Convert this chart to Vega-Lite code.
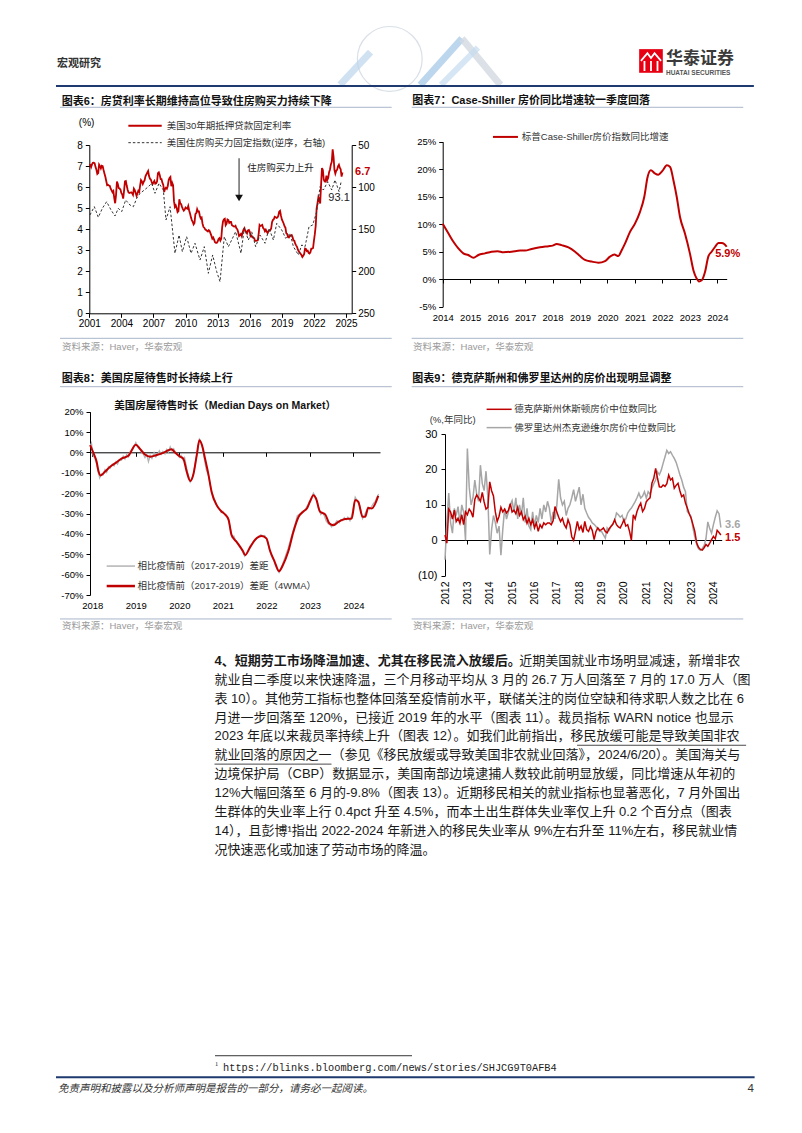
{
"$schema": "https://vega.github.io/schema/vega-lite/v6.json",
"width": 802, "height": 1133, "autosize": {"type": "none"}, "padding": 0, "background": "white",
"config": {"view": {"stroke": null}, "axis": {"grid": false, "domainColor": "#000", "tickColor": "#000", "labelColor": "#000", "labelFont": "Liberation Sans", "labelFontSize": 10, "tickSize": 4, "domainWidth": 1, "tickWidth": 1, "labelFlush": false, "labelOverlap": false}},
"data": {"values": [{}]},
"datasets": {
"c6rate": [
{"t":2001.000,"v":7.03},{"t":2001.083,"v":7.05},{"t":2001.167,"v":6.95},{"t":2001.250,"v":7.08},{"t":2001.333,"v":7.15},{"t":2001.417,"v":7.16},{"t":2001.500,"v":7.13},{"t":2001.583,"v":6.95},{"t":2001.667,"v":6.82},{"t":2001.750,"v":6.62},{"t":2001.833,"v":6.66},{"t":2001.917,"v":7.07},
{"t":2002.000,"v":7.00},{"t":2002.083,"v":6.89},{"t":2002.167,"v":7.01},{"t":2002.250,"v":6.99},{"t":2002.333,"v":6.81},{"t":2002.417,"v":6.65},{"t":2002.500,"v":6.49},{"t":2002.583,"v":6.29},{"t":2002.667,"v":6.09},{"t":2002.750,"v":6.11},{"t":2002.833,"v":6.07},{"t":2002.917,"v":6.05},
{"t":2003.000,"v":5.92},{"t":2003.083,"v":5.84},{"t":2003.167,"v":5.75},{"t":2003.250,"v":5.81},{"t":2003.333,"v":5.48},{"t":2003.417,"v":5.23},{"t":2003.500,"v":5.63},{"t":2003.583,"v":6.26},{"t":2003.667,"v":6.15},{"t":2003.750,"v":5.95},{"t":2003.833,"v":5.93},{"t":2003.917,"v":5.88},
{"t":2004.000,"v":5.71},{"t":2004.083,"v":5.64},{"t":2004.167,"v":5.45},{"t":2004.250,"v":5.83},{"t":2004.333,"v":6.27},{"t":2004.417,"v":6.29},{"t":2004.500,"v":6.06},{"t":2004.583,"v":5.87},{"t":2004.667,"v":5.75},{"t":2004.750,"v":5.72},{"t":2004.833,"v":5.73},{"t":2004.917,"v":5.75},
{"t":2005.000,"v":5.71},{"t":2005.083,"v":5.63},{"t":2005.167,"v":5.93},{"t":2005.250,"v":5.86},{"t":2005.333,"v":5.72},{"t":2005.417,"v":5.58},{"t":2005.500,"v":5.70},{"t":2005.583,"v":5.82},{"t":2005.667,"v":5.77},{"t":2005.750,"v":6.07},{"t":2005.833,"v":6.33},{"t":2005.917,"v":6.27},
{"t":2006.000,"v":6.15},{"t":2006.083,"v":6.25},{"t":2006.167,"v":6.32},{"t":2006.250,"v":6.51},{"t":2006.333,"v":6.60},{"t":2006.417,"v":6.68},{"t":2006.500,"v":6.76},{"t":2006.583,"v":6.52},{"t":2006.667,"v":6.40},{"t":2006.750,"v":6.36},{"t":2006.833,"v":6.24},{"t":2006.917,"v":6.14},
{"t":2007.000,"v":6.22},{"t":2007.083,"v":6.29},{"t":2007.167,"v":6.16},{"t":2007.250,"v":6.18},{"t":2007.333,"v":6.26},{"t":2007.417,"v":6.66},{"t":2007.500,"v":6.70},{"t":2007.583,"v":6.57},{"t":2007.667,"v":6.38},{"t":2007.750,"v":6.38},{"t":2007.833,"v":6.21},{"t":2007.917,"v":6.10},
{"t":2008.000,"v":5.76},{"t":2008.083,"v":5.92},{"t":2008.167,"v":5.97},{"t":2008.250,"v":5.92},{"t":2008.333,"v":6.04},{"t":2008.417,"v":6.32},{"t":2008.500,"v":6.43},{"t":2008.583,"v":6.48},{"t":2008.667,"v":6.04},{"t":2008.750,"v":6.20},{"t":2008.833,"v":6.09},{"t":2008.917,"v":5.33},
{"t":2009.000,"v":5.06},{"t":2009.083,"v":5.13},{"t":2009.167,"v":5.00},{"t":2009.250,"v":4.81},{"t":2009.333,"v":4.86},{"t":2009.417,"v":5.42},{"t":2009.500,"v":5.22},{"t":2009.583,"v":5.19},{"t":2009.667,"v":5.06},{"t":2009.750,"v":4.95},{"t":2009.833,"v":4.88},{"t":2009.917,"v":4.93},
{"t":2010.000,"v":5.03},{"t":2010.083,"v":4.99},{"t":2010.167,"v":4.97},{"t":2010.250,"v":5.10},{"t":2010.333,"v":4.89},{"t":2010.417,"v":4.74},{"t":2010.500,"v":4.56},{"t":2010.583,"v":4.43},{"t":2010.667,"v":4.35},{"t":2010.750,"v":4.23},{"t":2010.833,"v":4.30},{"t":2010.917,"v":4.71},
{"t":2011.000,"v":4.76},{"t":2011.083,"v":4.95},{"t":2011.167,"v":4.84},{"t":2011.250,"v":4.84},{"t":2011.333,"v":4.64},{"t":2011.417,"v":4.51},{"t":2011.500,"v":4.55},{"t":2011.583,"v":4.27},{"t":2011.667,"v":4.11},{"t":2011.750,"v":4.07},{"t":2011.833,"v":3.99},{"t":2011.917,"v":3.96},
{"t":2012.000,"v":3.92},{"t":2012.083,"v":3.89},{"t":2012.167,"v":3.95},{"t":2012.250,"v":3.91},{"t":2012.333,"v":3.80},{"t":2012.417,"v":3.68},{"t":2012.500,"v":3.55},{"t":2012.583,"v":3.60},{"t":2012.667,"v":3.50},{"t":2012.750,"v":3.38},{"t":2012.833,"v":3.35},{"t":2012.917,"v":3.35},
{"t":2013.000,"v":3.41},{"t":2013.083,"v":3.53},{"t":2013.167,"v":3.57},{"t":2013.250,"v":3.45},{"t":2013.333,"v":3.54},{"t":2013.417,"v":4.07},{"t":2013.500,"v":4.37},{"t":2013.583,"v":4.46},{"t":2013.667,"v":4.49},{"t":2013.750,"v":4.19},{"t":2013.833,"v":4.26},{"t":2013.917,"v":4.46},
{"t":2014.000,"v":4.43},{"t":2014.083,"v":4.30},{"t":2014.167,"v":4.34},{"t":2014.250,"v":4.34},{"t":2014.333,"v":4.19},{"t":2014.417,"v":4.16},{"t":2014.500,"v":4.13},{"t":2014.583,"v":4.12},{"t":2014.667,"v":4.16},{"t":2014.750,"v":4.04},{"t":2014.833,"v":4.00},{"t":2014.917,"v":3.86},
{"t":2015.000,"v":3.67},{"t":2015.083,"v":3.71},{"t":2015.167,"v":3.77},{"t":2015.250,"v":3.67},{"t":2015.333,"v":3.84},{"t":2015.417,"v":3.98},{"t":2015.500,"v":4.05},{"t":2015.583,"v":3.91},{"t":2015.667,"v":3.89},{"t":2015.750,"v":3.80},{"t":2015.833,"v":3.94},{"t":2015.917,"v":3.96},
{"t":2016.000,"v":3.87},{"t":2016.083,"v":3.66},{"t":2016.167,"v":3.69},{"t":2016.250,"v":3.61},{"t":2016.333,"v":3.60},{"t":2016.417,"v":3.57},{"t":2016.500,"v":3.44},{"t":2016.583,"v":3.44},{"t":2016.667,"v":3.46},{"t":2016.750,"v":3.47},{"t":2016.833,"v":3.77},{"t":2016.917,"v":4.20},
{"t":2017.000,"v":4.15},{"t":2017.083,"v":4.17},{"t":2017.167,"v":4.20},{"t":2017.250,"v":4.05},{"t":2017.333,"v":4.01},{"t":2017.417,"v":3.90},{"t":2017.500,"v":3.97},{"t":2017.583,"v":3.88},{"t":2017.667,"v":3.81},{"t":2017.750,"v":3.90},{"t":2017.833,"v":3.92},{"t":2017.917,"v":3.95},
{"t":2018.000,"v":4.03},{"t":2018.083,"v":4.33},{"t":2018.167,"v":4.44},{"t":2018.250,"v":4.47},{"t":2018.333,"v":4.59},{"t":2018.417,"v":4.57},{"t":2018.500,"v":4.53},{"t":2018.583,"v":4.55},{"t":2018.667,"v":4.63},{"t":2018.750,"v":4.83},{"t":2018.833,"v":4.87},{"t":2018.917,"v":4.64},
{"t":2019.000,"v":4.46},{"t":2019.083,"v":4.37},{"t":2019.167,"v":4.27},{"t":2019.250,"v":4.14},{"t":2019.333,"v":4.07},{"t":2019.417,"v":3.80},{"t":2019.500,"v":3.77},{"t":2019.583,"v":3.62},{"t":2019.667,"v":3.61},{"t":2019.750,"v":3.69},{"t":2019.833,"v":3.70},{"t":2019.917,"v":3.72},
{"t":2020.000,"v":3.62},{"t":2020.083,"v":3.47},{"t":2020.167,"v":3.45},{"t":2020.250,"v":3.31},{"t":2020.333,"v":3.23},{"t":2020.417,"v":3.16},{"t":2020.500,"v":3.02},{"t":2020.583,"v":2.94},{"t":2020.667,"v":2.89},{"t":2020.750,"v":2.83},{"t":2020.833,"v":2.77},{"t":2020.917,"v":2.68},
{"t":2021.000,"v":2.74},{"t":2021.083,"v":2.81},{"t":2021.167,"v":3.08},{"t":2021.250,"v":3.06},{"t":2021.333,"v":2.96},{"t":2021.417,"v":2.98},{"t":2021.500,"v":2.87},{"t":2021.583,"v":2.84},{"t":2021.667,"v":2.90},{"t":2021.750,"v":3.07},{"t":2021.833,"v":3.07},{"t":2021.917,"v":3.10},
{"t":2022.000,"v":3.45},{"t":2022.083,"v":3.76},{"t":2022.167,"v":4.17},{"t":2022.250,"v":4.98},{"t":2022.333,"v":5.23},{"t":2022.417,"v":5.52},{"t":2022.500,"v":5.41},{"t":2022.583,"v":5.22},{"t":2022.667,"v":6.11},{"t":2022.750,"v":6.90},{"t":2022.833,"v":6.81},{"t":2022.917,"v":6.36},
{"t":2023.000,"v":6.27},{"t":2023.083,"v":6.26},{"t":2023.167,"v":6.54},{"t":2023.250,"v":6.34},{"t":2023.333,"v":6.43},{"t":2023.417,"v":6.71},{"t":2023.500,"v":6.84},{"t":2023.583,"v":7.07},{"t":2023.667,"v":7.20},{"t":2023.750,"v":7.79},{"t":2023.833,"v":7.44},{"t":2023.917,"v":6.82},
{"t":2024.000,"v":6.64},{"t":2024.083,"v":6.78},{"t":2024.167,"v":6.82},{"t":2024.250,"v":6.99},{"t":2024.333,"v":7.06},{"t":2024.417,"v":6.92},{"t":2024.500,"v":6.85},{"t":2024.583,"v":6.50},{"t":2024.667,"v":6.70}
],
"c6idx": [
{"t":2001.06,"v":133.2},{"t":2001.47,"v":123.3},{"t":2001.84,"v":135.9},{"t":2002.22,"v":125.3},{"t":2002.62,"v":117.4},{"t":2003.03,"v":127.2},{"t":2003.40,"v":134.4},{"t":2003.71,"v":125.3},{"t":2004.03,"v":129.2},{"t":2004.40,"v":115.4},{"t":2004.80,"v":121.3},{"t":2005.12,"v":123.3},{"t":2005.43,"v":113.4},{"t":2005.74,"v":107.4},{"t":2006.15,"v":103.5},{"t":2006.52,"v":99.5},{"t":2006.83,"v":95.5},{"t":2007.14,"v":107.4},{"t":2007.52,"v":95.5},{"t":2007.92,"v":103.5},{"t":2008.17,"v":139.1},{"t":2008.55,"v":123.3},{"t":2009.01,"v":178.7},{"t":2009.39,"v":157.0},{"t":2009.70,"v":176.8},{"t":2010.10,"v":159.0},{"t":2010.51,"v":178.7},{"t":2010.88,"v":166.8},{"t":2011.35,"v":186.7},{"t":2011.75,"v":170.8},{"t":2012.13,"v":202.5},{"t":2012.53,"v":180.7},{"t":2012.91,"v":200.5},{"t":2013.22,"v":212.4},{"t":2013.62,"v":159.0},{"t":2014.00,"v":170.8},{"t":2014.31,"v":162.9},{"t":2014.68,"v":153.0},{"t":2015.18,"v":178.7},{"t":2015.49,"v":149.0},{"t":2015.87,"v":162.9},{"t":2016.18,"v":153.0},{"t":2016.55,"v":170.8},{"t":2016.96,"v":157.0},{"t":2017.43,"v":166.8},{"t":2017.80,"v":149.0},{"t":2018.21,"v":162.9},{"t":2018.52,"v":143.1},{"t":2018.99,"v":151.0},{"t":2019.36,"v":160.9},{"t":2019.77,"v":155.0},{"t":2020.08,"v":170.8},{"t":2020.55,"v":180.7},{"t":2020.86,"v":168.8},{"t":2021.17,"v":170.8},{"t":2021.54,"v":147.1},{"t":2021.88,"v":145.1},{"t":2022.26,"v":129.2},{"t":2022.57,"v":99.5},{"t":2022.88,"v":103.5},{"t":2023.29,"v":93.6},{"t":2023.66,"v":103.5},{"t":2023.97,"v":91.6},{"t":2024.35,"v":105.5},{"t":2024.55,"v":93.1}
],
"c7": [
{"t":2014.00,"v":10.1},{"t":2014.21,"v":8.3},{"t":2014.39,"v":6.8},{"t":2014.57,"v":5.6},{"t":2014.75,"v":4.7},{"t":2014.93,"v":4.4},{"t":2015.12,"v":3.9},{"t":2015.30,"v":4.4},{"t":2015.54,"v":4.7},{"t":2015.78,"v":5.0},{"t":2016.00,"v":5.1},{"t":2016.21,"v":4.9},{"t":2016.51,"v":5.0},{"t":2016.82,"v":5.2},{"t":2017.00,"v":5.2},{"t":2017.24,"v":5.5},{"t":2017.54,"v":5.8},{"t":2017.85,"v":6.0},{"t":2018.00,"v":6.1},{"t":2018.15,"v":6.4},{"t":2018.33,"v":6.2},{"t":2018.58,"v":5.8},{"t":2018.82,"v":5.0},{"t":2019.00,"v":4.2},{"t":2019.18,"v":3.5},{"t":2019.42,"v":3.2},{"t":2019.67,"v":3.0},{"t":2019.91,"v":3.3},{"t":2020.09,"v":4.1},{"t":2020.25,"v":4.5},{"t":2020.40,"v":4.2},{"t":2020.49,"v":5.0},{"t":2020.64,"v":6.5},{"t":2020.82,"v":8.6},{"t":2021.00,"v":10.1},{"t":2021.18,"v":12.2},{"t":2021.34,"v":15.0},{"t":2021.46,"v":18.6},{"t":2021.58,"v":19.8},{"t":2021.71,"v":19.3},{"t":2021.85,"v":19.0},{"t":2022.00,"v":19.7},{"t":2022.16,"v":20.7},{"t":2022.28,"v":20.4},{"t":2022.40,"v":18.0},{"t":2022.52,"v":15.0},{"t":2022.64,"v":11.3},{"t":2022.82,"v":8.3},{"t":2023.00,"v":4.7},{"t":2023.13,"v":1.6},{"t":2023.25,"v":0.1},{"t":2023.33,"v":-0.4},{"t":2023.43,"v":-0.2},{"t":2023.55,"v":1.3},{"t":2023.67,"v":4.1},{"t":2023.79,"v":5.0},{"t":2023.92,"v":5.9},{"t":2024.04,"v":6.6},{"t":2024.16,"v":6.6},{"t":2024.25,"v":6.4},{"t":2024.34,"v":5.9}
],
"c8g": [
{"t":2017.95,"v":3.0},{"t":2017.98,"v":4.5},{"t":2018.02,"v":-1.5},{"t":2018.06,"v":-3.0},{"t":2018.10,"v":-6.0},{"t":2018.14,"v":-10.0},{"t":2018.17,"v":-12.5},{"t":2018.21,"v":-10.5},{"t":2018.25,"v":-11.0},{"t":2018.29,"v":-8.5},{"t":2018.33,"v":-9.8},{"t":2018.37,"v":-7.0},{"t":2018.41,"v":-7.8},{"t":2018.46,"v":-5.8},{"t":2018.50,"v":-6.6},{"t":2018.54,"v":-4.6},{"t":2018.58,"v":-5.8},{"t":2018.62,"v":-3.5},{"t":2018.67,"v":-3.8},{"t":2018.71,"v":-1.8},{"t":2018.75,"v":-3.2},{"t":2018.79,"v":-1.0},{"t":2018.83,"v":-2.2},{"t":2018.87,"v":0.5},{"t":2018.92,"v":1.2},{"t":2018.96,"v":3.0},{"t":2019.00,"v":4.8},{"t":2019.04,"v":2.8},{"t":2019.08,"v":2.2},{"t":2019.12,"v":0.5},{"t":2019.17,"v":-0.8},{"t":2019.21,"v":-2.5},{"t":2019.25,"v":-1.0},{"t":2019.29,"v":-4.5},{"t":2019.33,"v":-1.5},{"t":2019.37,"v":-3.0},{"t":2019.42,"v":-0.2},{"t":2019.46,"v":-2.2},{"t":2019.50,"v":-1.0},{"t":2019.54,"v":0.8},{"t":2019.58,"v":-1.0},{"t":2019.62,"v":0.5},{"t":2019.67,"v":-0.8},{"t":2019.71,"v":1.5},{"t":2019.75,"v":0.2},{"t":2019.79,"v":2.8},{"t":2019.83,"v":0.8},{"t":2019.87,"v":1.8},{"t":2019.92,"v":-0.5},{"t":2019.96,"v":-1.2},{"t":2020.00,"v":-2.5},{"t":2020.04,"v":-1.5},{"t":2020.08,"v":-3.5},{"t":2020.12,"v":-2.5},{"t":2020.17,"v":-8.0},{"t":2020.21,"v":-11.5},{"t":2020.25,"v":-14.5},{"t":2020.29,"v":-13.0},{"t":2020.33,"v":-10.0},{"t":2020.37,"v":-4.5},{"t":2020.42,"v":1.0},{"t":2020.46,"v":6.5},{"t":2020.50,"v":5.0},{"t":2020.54,"v":1.5},{"t":2020.58,"v":-4.0},{"t":2020.62,"v":-8.5},{"t":2020.67,"v":-11.5},{"t":2020.71,"v":-16.0},{"t":2020.75,"v":-20.0},{"t":2020.79,"v":-22.0},{"t":2020.83,"v":-24.5},{"t":2020.87,"v":-26.5},{"t":2020.92,"v":-27.5},{"t":2020.96,"v":-29.5},{"t":2021.00,"v":-29.0},{"t":2021.04,"v":-30.5},{"t":2021.08,"v":-31.0},{"t":2021.12,"v":-32.5},{"t":2021.17,"v":-37.0},{"t":2021.21,"v":-41.5},{"t":2021.25,"v":-41.0},{"t":2021.29,"v":-43.0},{"t":2021.33,"v":-44.5},{"t":2021.37,"v":-46.0},{"t":2021.42,"v":-47.5},{"t":2021.46,"v":-49.0},{"t":2021.50,"v":-51.0},{"t":2021.54,"v":-50.0},{"t":2021.58,"v":-48.0},{"t":2021.62,"v":-46.0},{"t":2021.67,"v":-45.0},{"t":2021.71,"v":-43.5},{"t":2021.75,"v":-43.0},{"t":2021.79,"v":-42.0},{"t":2021.83,"v":-41.5},{"t":2021.87,"v":-40.5},{"t":2021.92,"v":-41.0},{"t":2021.96,"v":-40.8},{"t":2022.00,"v":-42.5},{"t":2022.04,"v":-45.0},{"t":2022.08,"v":-48.5},{"t":2022.12,"v":-51.0},{"t":2022.17,"v":-53.0},{"t":2022.21,"v":-55.5},{"t":2022.25,"v":-57.5},{"t":2022.29,"v":-59.0},{"t":2022.33,"v":-57.0},{"t":2022.37,"v":-55.0},{"t":2022.42,"v":-52.0},{"t":2022.46,"v":-49.5},{"t":2022.50,"v":-47.0},{"t":2022.54,"v":-44.0},{"t":2022.58,"v":-41.0},{"t":2022.62,"v":-38.0},{"t":2022.67,"v":-34.5},{"t":2022.71,"v":-31.0},{"t":2022.75,"v":-30.5},{"t":2022.79,"v":-30.0},{"t":2022.83,"v":-29.0},{"t":2022.87,"v":-28.5},{"t":2022.92,"v":-27.0},{"t":2022.96,"v":-25.5},{"t":2023.00,"v":-23.5},{"t":2023.04,"v":-22.5},{"t":2023.08,"v":-20.0},{"t":2023.12,"v":-21.5},{"t":2023.17,"v":-24.5},{"t":2023.21,"v":-28.0},{"t":2023.25,"v":-30.5},{"t":2023.29,"v":-29.5},{"t":2023.33,"v":-31.0},{"t":2023.37,"v":-33.5},{"t":2023.42,"v":-35.0},{"t":2023.46,"v":-35.5},{"t":2023.50,"v":-36.5},{"t":2023.54,"v":-35.0},{"t":2023.58,"v":-34.8},{"t":2023.62,"v":-33.5},{"t":2023.67,"v":-34.5},{"t":2023.71,"v":-33.0},{"t":2023.75,"v":-33.5},{"t":2023.79,"v":-32.0},{"t":2023.83,"v":-33.0},{"t":2023.87,"v":-31.8},{"t":2023.92,"v":-33.5},{"t":2023.96,"v":-31.0},{"t":2024.00,"v":-27.0},{"t":2024.04,"v":-22.0},{"t":2024.08,"v":-23.5},{"t":2024.12,"v":-24.5},{"t":2024.17,"v":-28.5},{"t":2024.21,"v":-32.5},{"t":2024.25,"v":-31.0},{"t":2024.29,"v":-29.0},{"t":2024.33,"v":-27.0},{"t":2024.37,"v":-28.0},{"t":2024.42,"v":-26.5},{"t":2024.46,"v":-25.0},{"t":2024.50,"v":-24.0},{"t":2024.54,"v":-22.0},{"t":2024.58,"v":-20.5}
],
"c8r": [
{"t":2017.95,"v":3.6},{"t":2018.02,"v":0.0},{"t":2018.10,"v":-4.6},{"t":2018.14,"v":-9.0},{"t":2018.19,"v":-11.3},{"t":2018.29,"v":-9.5},{"t":2018.41,"v":-7.0},{"t":2018.52,"v":-5.4},{"t":2018.67,"v":-3.0},{"t":2018.83,"v":-1.6},{"t":2019.00,"v":3.8},{"t":2019.10,"v":1.6},{"t":2019.21,"v":-1.0},{"t":2019.33,"v":-2.1},{"t":2019.48,"v":-1.3},{"t":2019.63,"v":-0.2},{"t":2019.75,"v":1.1},{"t":2019.82,"v":1.6},{"t":2019.90,"v":0.0},{"t":2020.02,"v":-2.1},{"t":2020.09,"v":-3.0},{"t":2020.17,"v":-9.5},{"t":2020.25,"v":-14.0},{"t":2020.32,"v":-11.0},{"t":2020.40,"v":-1.3},{"t":2020.46,"v":6.0},{"t":2020.52,"v":3.6},{"t":2020.59,"v":-3.0},{"t":2020.67,"v":-11.0},{"t":2020.74,"v":-19.3},{"t":2020.86,"v":-26.0},{"t":2020.97,"v":-29.0},{"t":2021.05,"v":-30.4},{"t":2021.13,"v":-33.0},{"t":2021.20,"v":-40.6},{"t":2021.32,"v":-44.0},{"t":2021.46,"v":-48.4},{"t":2021.51,"v":-50.4},{"t":2021.62,"v":-46.8},{"t":2021.70,"v":-44.0},{"t":2021.78,"v":-42.0},{"t":2021.89,"v":-41.0},{"t":2022.00,"v":-42.2},{"t":2022.08,"v":-48.0},{"t":2022.19,"v":-53.7},{"t":2022.29,"v":-58.3},{"t":2022.38,"v":-55.3},{"t":2022.50,"v":-48.8},{"t":2022.62,"v":-39.0},{"t":2022.74,"v":-31.6},{"t":2022.85,"v":-29.0},{"t":2022.93,"v":-27.5},{"t":2023.00,"v":-24.2},{"t":2023.08,"v":-21.0},{"t":2023.14,"v":-22.6},{"t":2023.23,"v":-29.0},{"t":2023.35,"v":-30.4},{"t":2023.45,"v":-34.9},{"t":2023.54,"v":-35.7},{"t":2023.66,"v":-34.0},{"t":2023.81,"v":-32.7},{"t":2023.96,"v":-32.4},{"t":2024.04,"v":-23.4},{"t":2024.11,"v":-24.2},{"t":2024.21,"v":-31.6},{"t":2024.27,"v":-31.6},{"t":2024.34,"v":-27.2},{"t":2024.42,"v":-27.5},{"t":2024.57,"v":-21.3}
],
"c9": [
{"t":2012.000,"h":1.5,"j":-5.5},{"t":2012.083,"h":-0.8,"j":5.0},{"t":2012.167,"h":8.8,"j":13.3},{"t":2012.250,"h":8.0,"j":5.0},{"t":2012.333,"h":6.0,"j":2.0},{"t":2012.417,"h":8.5,"j":9.0},{"t":2012.500,"h":5.3,"j":7.0},{"t":2012.583,"h":6.2,"j":9.5},{"t":2012.667,"h":4.8,"j":5.0},{"t":2012.750,"h":7.2,"j":10.0},{"t":2012.833,"h":4.4,"j":8.0},{"t":2012.917,"h":8.0,"j":0.0},
{"t":2013.000,"h":7.2,"j":25.9},{"t":2013.083,"h":8.8,"j":15.0},{"t":2013.167,"h":8.0,"j":10.0},{"t":2013.250,"h":6.5,"j":12.0},{"t":2013.333,"h":11.5,"j":17.0},{"t":2013.417,"h":12.8,"j":13.0},{"t":2013.500,"h":12.0,"j":11.0},{"t":2013.583,"h":11.0,"j":21.2},{"t":2013.667,"h":13.5,"j":16.0},{"t":2013.750,"h":10.8,"j":14.0},{"t":2013.833,"h":8.8,"j":19.5},{"t":2013.917,"h":9.3,"j":12.0},
{"t":2014.000,"h":16.5,"j":-4.0},{"t":2014.083,"h":14.0,"j":3.0},{"t":2014.167,"h":12.5,"j":7.0},{"t":2014.250,"h":8.0,"j":5.0},{"t":2014.333,"h":5.3,"j":2.0},{"t":2014.417,"h":6.8,"j":4.0},{"t":2014.500,"h":9.3,"j":-4.2},{"t":2014.583,"h":8.0,"j":3.0},{"t":2014.667,"h":8.8,"j":9.0},{"t":2014.750,"h":7.7,"j":6.0},{"t":2014.833,"h":8.4,"j":8.0},{"t":2014.917,"h":10.3,"j":10.0},
{"t":2015.000,"h":8.0,"j":11.2},{"t":2015.083,"h":8.5,"j":8.0},{"t":2015.167,"h":7.5,"j":12.0},{"t":2015.250,"h":9.3,"j":6.0},{"t":2015.333,"h":7.0,"j":10.0},{"t":2015.417,"h":8.0,"j":7.0},{"t":2015.500,"h":5.8,"j":12.0},{"t":2015.583,"h":6.8,"j":5.0},{"t":2015.667,"h":4.8,"j":9.0},{"t":2015.750,"h":6.2,"j":4.0},{"t":2015.833,"h":4.4,"j":3.0},{"t":2015.917,"h":5.8,"j":8.0},
{"t":2016.000,"h":3.5,"j":4.0},{"t":2016.083,"h":4.9,"j":7.0},{"t":2016.167,"h":2.5,"j":5.0},{"t":2016.250,"h":4.4,"j":9.0},{"t":2016.333,"h":3.5,"j":6.0},{"t":2016.417,"h":4.9,"j":10.0},{"t":2016.500,"h":4.4,"j":8.0},{"t":2016.583,"h":4.9,"j":11.0},{"t":2016.667,"h":4.9,"j":9.0},{"t":2016.750,"h":4.4,"j":5.0},{"t":2016.833,"h":5.5,"j":8.0},{"t":2016.917,"h":9.5,"j":6.0},
{"t":2017.000,"h":8.0,"j":10.0},{"t":2017.083,"h":6.5,"j":17.2},{"t":2017.167,"h":5.3,"j":12.0},{"t":2017.250,"h":6.2,"j":10.0},{"t":2017.333,"h":4.4,"j":11.0},{"t":2017.417,"h":3.5,"j":7.0},{"t":2017.500,"h":5.8,"j":9.0},{"t":2017.583,"h":4.4,"j":10.0},{"t":2017.667,"h":1.0,"j":12.0},{"t":2017.750,"h":0.0,"j":14.3},{"t":2017.833,"h":2.5,"j":11.0},{"t":2017.917,"h":5.3,"j":13.0},
{"t":2018.000,"h":3.0,"j":15.0},{"t":2018.083,"h":4.0,"j":10.0},{"t":2018.167,"h":2.2,"j":13.0},{"t":2018.250,"h":5.3,"j":9.0},{"t":2018.333,"h":3.0,"j":7.7},{"t":2018.417,"h":2.5,"j":6.5},{"t":2018.500,"h":3.9,"j":5.8},{"t":2018.583,"h":2.8,"j":4.9},{"t":2018.667,"h":0.2,"j":4.5},{"t":2018.750,"h":2.5,"j":3.9},{"t":2018.833,"h":3.5,"j":3.2},{"t":2018.917,"h":2.8,"j":2.5},
{"t":2019.000,"h":3.0,"j":2.5},{"t":2019.083,"h":3.5,"j":1.5},{"t":2019.167,"h":2.5,"j":0.6},{"t":2019.250,"h":2.1,"j":3.5},{"t":2019.333,"h":3.2,"j":2.8},{"t":2019.417,"h":3.9,"j":3.9},{"t":2019.500,"h":4.5,"j":4.5},{"t":2019.583,"h":5.8,"j":5.5},{"t":2019.667,"h":4.4,"j":7.7},{"t":2019.750,"h":3.8,"j":7.2},{"t":2019.833,"h":3.5,"j":6.5},{"t":2019.917,"h":4.6,"j":7.0},
{"t":2020.000,"h":5.8,"j":5.3},{"t":2020.083,"h":4.0,"j":6.0},{"t":2020.167,"h":4.4,"j":7.7},{"t":2020.250,"h":2.5,"j":8.5},{"t":2020.333,"h":0.0,"j":9.1},{"t":2020.417,"h":7.2,"j":10.0},{"t":2020.500,"h":6.0,"j":10.9},{"t":2020.583,"h":8.1,"j":12.0},{"t":2020.667,"h":9.5,"j":13.3},{"t":2020.750,"h":10.5,"j":11.9},{"t":2020.833,"h":8.1,"j":12.5},{"t":2020.917,"h":9.0,"j":13.7},
{"t":2021.000,"h":10.9,"j":11.9},{"t":2021.083,"h":11.5,"j":13.7},{"t":2021.167,"h":12.0,"j":13.0},{"t":2021.250,"h":16.1,"j":14.7},{"t":2021.333,"h":17.5,"j":16.0},{"t":2021.417,"h":20.3,"j":17.0},{"t":2021.500,"h":17.5,"j":19.3},{"t":2021.583,"h":15.1,"j":18.5},{"t":2021.667,"h":15.0,"j":19.8},{"t":2021.750,"h":15.6,"j":21.7},{"t":2021.833,"h":15.2,"j":23.5},{"t":2021.917,"h":16.0,"j":25.4},
{"t":2022.000,"h":18.4,"j":24.5},{"t":2022.083,"h":17.0,"j":25.0},{"t":2022.167,"h":17.5,"j":24.0},{"t":2022.250,"h":14.7,"j":23.1},{"t":2022.333,"h":15.5,"j":22.0},{"t":2022.417,"h":16.1,"j":20.3},{"t":2022.500,"h":14.0,"j":18.5},{"t":2022.583,"h":12.3,"j":17.0},{"t":2022.667,"h":12.8,"j":15.0},{"t":2022.750,"h":10.5,"j":13.7},{"t":2022.833,"h":9.1,"j":8.1},{"t":2022.917,"h":7.5,"j":7.5},
{"t":2023.000,"h":6.3,"j":6.7},{"t":2023.083,"h":4.5,"j":3.5},{"t":2023.167,"h":2.5,"j":1.0},{"t":2023.250,"h":-0.7,"j":-1.2},{"t":2023.333,"h":-2.0,"j":-2.4},{"t":2023.417,"h":-2.6,"j":-2.8},{"t":2023.500,"h":-2.8,"j":-2.3},{"t":2023.583,"h":-2.1,"j":-1.5},{"t":2023.667,"h":-1.2,"j":0.5},{"t":2023.750,"h":-1.7,"j":5.2},{"t":2023.833,"h":-0.8,"j":3.3},{"t":2023.917,"h":0.2,"j":2.0},
{"t":2024.000,"h":1.1,"j":4.4},{"t":2024.083,"h":0.4,"j":6.5},{"t":2024.167,"h":2.8,"j":8.3},{"t":2024.250,"h":2.2,"j":7.5},{"t":2024.333,"h":1.5,"j":3.6}
]
},
"resolve": {"scale": {"x": "independent", "y": "independent"}, "axis": {"x": "independent", "y": "independent"}},
"layer": [
{
"layer": [
{"mark": {"type": "text", "text": "宏观研究", "align": "left", "baseline": "middle", "font": "Noto Sans CJK SC", "fontSize": 11, "fontWeight": "bold", "fill": "#333"}, "encoding": {"x": {"datum": 7.107, "type": "quantitative", "scale": {"domain": [0,100], "range": [0,802], "nice": false, "zero": false}, "axis": null}, "y": {"datum": 5.65, "type": "quantitative", "scale": {"domain": [0,100], "range": [0,1133], "nice": false, "zero": false}, "axis": null}}},
{"mark": {"type": "point", "shape": "circle", "size": 4200, "filled": false, "stroke": "#cbd3de", "strokeWidth": 1.2}, "encoding": {"x": {"datum": 48.6, "type": "quantitative", "scale": {"domain": [0,100], "range": [0,802], "nice": false, "zero": false}, "axis": null}, "y": {"datum": 5.2, "type": "quantitative", "scale": {"domain": [0,100], "range": [0,1133], "nice": false, "zero": false}, "axis": null}}},
{"mark": {"type": "rule", "stroke": "#bcd4ec", "strokeWidth": 7, "opacity": 0.7}, "encoding": {"x": {"datum": 42.4, "type": "quantitative", "scale": {"domain": [0,100], "range": [0,802], "nice": false, "zero": false}, "axis": null}, "x2": {"datum": 46.2}, "y": {"datum": 7.5, "type": "quantitative", "scale": {"domain": [0,100], "range": [0,1133], "nice": false, "zero": false}, "axis": null}, "y2": {"datum": 4.6}}},
{"mark": {"type": "rule", "stroke": "#9fc4e6", "strokeWidth": 7, "opacity": 0.7}, "encoding": {"x": {"datum": 52.4, "type": "quantitative", "scale": {"domain": [0,100], "range": [0,802], "nice": false, "zero": false}, "axis": null}, "x2": {"datum": 57.6}, "y": {"datum": 7.5, "type": "quantitative", "scale": {"domain": [0,100], "range": [0,1133], "nice": false, "zero": false}, "axis": null}, "y2": {"datum": 3.4}}},
{"mark": {"type": "rule", "stroke": "#d3d9e2", "strokeWidth": 7, "opacity": 0.8}, "encoding": {"x": {"datum": 57.6, "type": "quantitative", "scale": {"domain": [0,100], "range": [0,802], "nice": false, "zero": false}, "axis": null}, "x2": {"datum": 62.4}, "y": {"datum": 3.4, "type": "quantitative", "scale": {"domain": [0,100], "range": [0,1133], "nice": false, "zero": false}, "axis": null}, "y2": {"datum": 7.5}}},
{"mark": {"type": "rule", "stroke": "#c4dcf0", "strokeWidth": 6, "opacity": 0.7}, "encoding": {"x": {"datum": 55.0, "type": "quantitative", "scale": {"domain": [0,100], "range": [0,802], "nice": false, "zero": false}, "axis": null}, "x2": {"datum": 59.6}, "y": {"datum": 7.5, "type": "quantitative", "scale": {"domain": [0,100], "range": [0,1133], "nice": false, "zero": false}, "axis": null}, "y2": {"datum": 4.2}}},
{"mark": {"type": "point", "shape": "square", "size": 560, "filled": true, "fill": "#e60012", "stroke": null, "opacity": 1}, "encoding": {"x": {"datum": 81.17, "type": "quantitative", "scale": {"domain": [0,100], "range": [0,802], "nice": false, "zero": false}, "axis": null}, "y": {"datum": 5.38, "type": "quantitative", "scale": {"domain": [0,100], "range": [0,1133], "nice": false, "zero": false}, "axis": null}}},
{"mark": {"type": "point", "shape": "M-0.55,0.85V0M0,0.85V0M0.55,0.85V0M-0.85,0L-0.3,-0.65L0,-0.25L0.3,-0.65L0.85,0", "size": 560, "filled": false, "stroke": "#ffffff", "strokeWidth": 1.8, "opacity": 1}, "encoding": {"x": {"datum": 81.17, "type": "quantitative", "scale": {"domain": [0,100], "range": [0,802], "nice": false, "zero": false}, "axis": null}, "y": {"datum": 5.38, "type": "quantitative", "scale": {"domain": [0,100], "range": [0,1133], "nice": false, "zero": false}, "axis": null}}},
{"mark": {"type": "text", "text": "华泰证券", "align": "left", "baseline": "middle", "font": "Noto Sans CJK SC", "fontSize": 17, "fontWeight": "bold", "fill": "#3a3a3a"}, "encoding": {"x": {"datum": 83.04, "type": "quantitative", "scale": {"domain": [0,100], "range": [0,802], "nice": false, "zero": false}, "axis": null}, "y": {"datum": 5.2, "type": "quantitative", "scale": {"domain": [0,100], "range": [0,1133], "nice": false, "zero": false}, "axis": null}}},
{"mark": {"type": "text", "text": "HUATAI SECURITIES", "align": "left", "baseline": "middle", "font": "Liberation Sans", "fontSize": 6.5, "fontWeight": "bold", "fill": "#555"}, "encoding": {"x": {"datum": 83.04, "type": "quantitative", "scale": {"domain": [0,100], "range": [0,802], "nice": false, "zero": false}, "axis": null}, "y": {"datum": 6.44, "type": "quantitative", "scale": {"domain": [0,100], "range": [0,1133], "nice": false, "zero": false}, "axis": null}}},
{"mark": {"type": "rule", "stroke": "#1f3a6e", "strokeWidth": 2}, "encoding": {"x": {"datum": 6.98, "type": "quantitative", "scale": {"domain": [0,100], "range": [0,802], "nice": false, "zero": false}, "axis": null}, "x2": {"datum": 94.0}, "y": {"datum": 7.59, "type": "quantitative", "scale": {"domain": [0,100], "range": [0,1133], "nice": false, "zero": false}, "axis": null}}},
{"mark": {"type": "text", "text": "图表6：房贷利率长期维持高位导致住房购买力持续下降", "align": "left", "baseline": "middle", "font": "Liberation Sans, Noto Sans CJK SC", "fontSize": 11, "fontWeight": "bold", "fill": "#111"}, "encoding": {"x": {"datum": 7.69, "type": "quantitative", "scale": {"domain": [0,100], "range": [0,802], "nice": false, "zero": false}, "axis": null}, "y": {"datum": 8.976, "type": "quantitative", "scale": {"domain": [0,100], "range": [0,1133], "nice": false, "zero": false}, "axis": null}}},
{"mark": {"type": "text", "text": "图表7：Case-Shiller 房价同比增速较一季度回落", "align": "left", "baseline": "middle", "font": "Liberation Sans, Noto Sans CJK SC", "fontSize": 11, "fontWeight": "bold", "fill": "#111"}, "encoding": {"x": {"datum": 51.41, "type": "quantitative", "scale": {"domain": [0,100], "range": [0,802], "nice": false, "zero": false}, "axis": null}, "y": {"datum": 8.9, "type": "quantitative", "scale": {"domain": [0,100], "range": [0,1133], "nice": false, "zero": false}, "axis": null}}},
{"mark": {"type": "text", "text": "图表8：美国房屋待售时长持续上行", "align": "left", "baseline": "middle", "font": "Liberation Sans, Noto Sans CJK SC", "fontSize": 11, "fontWeight": "bold", "fill": "#111"}, "encoding": {"x": {"datum": 7.69, "type": "quantitative", "scale": {"domain": [0,100], "range": [0,802], "nice": false, "zero": false}, "axis": null}, "y": {"datum": 33.45, "type": "quantitative", "scale": {"domain": [0,100], "range": [0,1133], "nice": false, "zero": false}, "axis": null}}},
{"mark": {"type": "text", "text": "图表9：德克萨斯州和佛罗里达州的房价出现明显调整", "align": "left", "baseline": "middle", "font": "Liberation Sans, Noto Sans CJK SC", "fontSize": 11, "fontWeight": "bold", "fill": "#111"}, "encoding": {"x": {"datum": 51.41, "type": "quantitative", "scale": {"domain": [0,100], "range": [0,802], "nice": false, "zero": false}, "axis": null}, "y": {"datum": 33.45, "type": "quantitative", "scale": {"domain": [0,100], "range": [0,1133], "nice": false, "zero": false}, "axis": null}}},
{"mark": {"type": "rule", "stroke": "#a9b6ca", "strokeWidth": 1}, "encoding": {"x": {"datum": 7.48, "type": "quantitative", "scale": {"domain": [0,100], "range": [0,802], "nice": false, "zero": false}, "axis": null}, "x2": {"datum": 48.84}, "y": {"datum": 9.47, "type": "quantitative", "scale": {"domain": [0,100], "range": [0,1133], "nice": false, "zero": false}, "axis": null}}},
{"mark": {"type": "rule", "stroke": "#a9b6ca", "strokeWidth": 1}, "encoding": {"x": {"datum": 51.33, "type": "quantitative", "scale": {"domain": [0,100], "range": [0,802], "nice": false, "zero": false}, "axis": null}, "x2": {"datum": 92.68}, "y": {"datum": 9.47, "type": "quantitative", "scale": {"domain": [0,100], "range": [0,1133], "nice": false, "zero": false}, "axis": null}}},
{"mark": {"type": "rule", "stroke": "#a9b6ca", "strokeWidth": 1}, "encoding": {"x": {"datum": 7.48, "type": "quantitative", "scale": {"domain": [0,100], "range": [0,802], "nice": false, "zero": false}, "axis": null}, "x2": {"datum": 48.84}, "y": {"datum": 34.13, "type": "quantitative", "scale": {"domain": [0,100], "range": [0,1133], "nice": false, "zero": false}, "axis": null}}},
{"mark": {"type": "rule", "stroke": "#a9b6ca", "strokeWidth": 1}, "encoding": {"x": {"datum": 51.33, "type": "quantitative", "scale": {"domain": [0,100], "range": [0,802], "nice": false, "zero": false}, "axis": null}, "x2": {"datum": 92.68}, "y": {"datum": 34.13, "type": "quantitative", "scale": {"domain": [0,100], "range": [0,1133], "nice": false, "zero": false}, "axis": null}}},
{"mark": {"type": "rule", "stroke": "#a9b6ca", "strokeWidth": 1}, "encoding": {"x": {"datum": 7.48, "type": "quantitative", "scale": {"domain": [0,100], "range": [0,802], "nice": false, "zero": false}, "axis": null}, "x2": {"datum": 48.84}, "y": {"datum": 29.86, "type": "quantitative", "scale": {"domain": [0,100], "range": [0,1133], "nice": false, "zero": false}, "axis": null}}},
{"mark": {"type": "rule", "stroke": "#a9b6ca", "strokeWidth": 1}, "encoding": {"x": {"datum": 51.33, "type": "quantitative", "scale": {"domain": [0,100], "range": [0,802], "nice": false, "zero": false}, "axis": null}, "x2": {"datum": 92.68}, "y": {"datum": 29.86, "type": "quantitative", "scale": {"domain": [0,100], "range": [0,1133], "nice": false, "zero": false}, "axis": null}}},
{"mark": {"type": "rule", "stroke": "#a9b6ca", "strokeWidth": 1}, "encoding": {"x": {"datum": 7.48, "type": "quantitative", "scale": {"domain": [0,100], "range": [0,802], "nice": false, "zero": false}, "axis": null}, "x2": {"datum": 48.84}, "y": {"datum": 54.63, "type": "quantitative", "scale": {"domain": [0,100], "range": [0,1133], "nice": false, "zero": false}, "axis": null}}},
{"mark": {"type": "rule", "stroke": "#a9b6ca", "strokeWidth": 1}, "encoding": {"x": {"datum": 51.33, "type": "quantitative", "scale": {"domain": [0,100], "range": [0,802], "nice": false, "zero": false}, "axis": null}, "x2": {"datum": 92.68}, "y": {"datum": 54.63, "type": "quantitative", "scale": {"domain": [0,100], "range": [0,1133], "nice": false, "zero": false}, "axis": null}}},
{"mark": {"type": "text", "text": "资料来源：Haver，华泰宏观", "align": "left", "baseline": "middle", "font": "Liberation Sans, Noto Sans CJK SC", "fontSize": 9.5, "fill": "#9a9a9a"}, "encoding": {"x": {"datum": 7.73, "type": "quantitative", "scale": {"domain": [0,100], "range": [0,802], "nice": false, "zero": false}, "axis": null}, "y": {"datum": 30.6, "type": "quantitative", "scale": {"domain": [0,100], "range": [0,1133], "nice": false, "zero": false}, "axis": null}}},
{"mark": {"type": "text", "text": "资料来源：Haver，华泰宏观", "align": "left", "baseline": "middle", "font": "Liberation Sans, Noto Sans CJK SC", "fontSize": 9.5, "fill": "#9a9a9a"}, "encoding": {"x": {"datum": 51.5, "type": "quantitative", "scale": {"domain": [0,100], "range": [0,802], "nice": false, "zero": false}, "axis": null}, "y": {"datum": 30.6, "type": "quantitative", "scale": {"domain": [0,100], "range": [0,1133], "nice": false, "zero": false}, "axis": null}}},
{"mark": {"type": "text", "text": "资料来源：Haver，华泰宏观", "align": "left", "baseline": "middle", "font": "Liberation Sans, Noto Sans CJK SC", "fontSize": 9.5, "fill": "#9a9a9a"}, "encoding": {"x": {"datum": 7.73, "type": "quantitative", "scale": {"domain": [0,100], "range": [0,802], "nice": false, "zero": false}, "axis": null}, "y": {"datum": 55.25, "type": "quantitative", "scale": {"domain": [0,100], "range": [0,1133], "nice": false, "zero": false}, "axis": null}}},
{"mark": {"type": "text", "text": "资料来源：Haver，华泰宏观", "align": "left", "baseline": "middle", "font": "Liberation Sans, Noto Sans CJK SC", "fontSize": 9.5, "fill": "#9a9a9a"}, "encoding": {"x": {"datum": 51.5, "type": "quantitative", "scale": {"domain": [0,100], "range": [0,802], "nice": false, "zero": false}, "axis": null}, "y": {"datum": 55.25, "type": "quantitative", "scale": {"domain": [0,100], "range": [0,1133], "nice": false, "zero": false}, "axis": null}}},
{"mark": {"type": "rule", "stroke": "#000", "strokeWidth": 0.8}, "encoding": {"x": {"datum": 26.81, "type": "quantitative", "scale": {"domain": [0,100], "range": [0,802], "nice": false, "zero": false}, "axis": null}, "x2": {"datum": 51.37}, "y": {"datum": 93.18, "type": "quantitative", "scale": {"domain": [0,100], "range": [0,1133], "nice": false, "zero": false}, "axis": null}}},
{"mark": {"type": "text", "text": "1", "align": "left", "baseline": "middle", "font": "Liberation Serif", "fontSize": 6.5, "fill": "#222"}, "encoding": {"x": {"datum": 26.81, "type": "quantitative", "scale": {"domain": [0,100], "range": [0,802], "nice": false, "zero": false}, "axis": null}, "y": {"datum": 93.87, "type": "quantitative", "scale": {"domain": [0,100], "range": [0,1133], "nice": false, "zero": false}, "axis": null}}},
{"mark": {"type": "text", "text": "https://blinks.bloomberg.com/news/stories/SHJCG9T0AFB4", "align": "left", "baseline": "middle", "font": "Liberation Mono", "fontSize": 10.3, "fill": "#222"}, "encoding": {"x": {"datum": 27.81, "type": "quantitative", "scale": {"domain": [0,100], "range": [0,802], "nice": false, "zero": false}, "axis": null}, "y": {"datum": 94.29, "type": "quantitative", "scale": {"domain": [0,100], "range": [0,1133], "nice": false, "zero": false}, "axis": null}}},
{"mark": {"type": "rule", "stroke": "#1f3a6e", "strokeWidth": 2}, "encoding": {"x": {"datum": 6.98, "type": "quantitative", "scale": {"domain": [0,100], "range": [0,802], "nice": false, "zero": false}, "axis": null}, "x2": {"datum": 94.09}, "y": {"datum": 95.08, "type": "quantitative", "scale": {"domain": [0,100], "range": [0,1133], "nice": false, "zero": false}, "axis": null}}},
{"mark": {"type": "text", "text": "免责声明和披露以及分析师声明是报告的一部分，请务必一起阅读。", "align": "left", "baseline": "middle", "font": "Noto Sans CJK SC", "fontSize": 10.5, "fontStyle": "italic", "fill": "#333"}, "encoding": {"x": {"datum": 7.23, "type": "quantitative", "scale": {"domain": [0,100], "range": [0,802], "nice": false, "zero": false}, "axis": null}, "y": {"datum": 96.14, "type": "quantitative", "scale": {"domain": [0,100], "range": [0,1133], "nice": false, "zero": false}, "axis": null}}},
{"mark": {"type": "text", "text": "4", "align": "right", "baseline": "middle", "font": "Liberation Sans", "fontSize": 11.5, "fill": "#333"}, "encoding": {"x": {"datum": 94.0, "type": "quantitative", "scale": {"domain": [0,100], "range": [0,802], "nice": false, "zero": false}, "axis": null}, "y": {"datum": 96.14, "type": "quantitative", "scale": {"domain": [0,100], "range": [0,1133], "nice": false, "zero": false}, "axis": null}}}
]
},
{
"layer": [
{"data": {"values": [
{"line": 1, "text": "就业自二季度以来快速降温，三个月移动平均从 3 月的 26.7 万人回落至 7 月的 17.0 万人（图"},
{"line": 2, "text": "表 10）。其他劳工指标也整体回落至疫情前水平，联储关注的岗位空缺和待求职人数之比在 6"},
{"line": 3, "text": "月进一步回落至 120%，已接近 2019 年的水平（图表 11）。裁员指标 WARN notice 也显示"},
{"line": 4, "text": "2023 年底以来裁员率持续上升（图表 12）。如我们此前指出，移民放缓可能是导致美国非农"},
{"line": 5, "text": "就业回落的原因之一（参见《移民放缓或导致美国非农就业回落》，2024/6/20）。美国海关与"},
{"line": 6, "text": "边境保护局（CBP）数据显示，美国南部边境逮捕人数较此前明显放缓，同比增速从年初的"},
{"line": 7, "text": "12%大幅回落至 6 月的-9.8%（图表 13）。近期移民相关的就业指标也显著恶化，7 月外国出"},
{"line": 8, "text": "生群体的失业率上行 0.4pct 升至 4.5%，而本土出生群体失业率仅上升 0.2 个百分点（图表"},
{"line": 9, "text": "14），且彭博¹指出 2022-2024 年新进入的移民失业率从 9%左右升至 11%左右，移民就业情"},
{"line": 10, "text": "况快速恶化或加速了劳动市场的降温。"}
]},
"mark": {"type": "text", "align": "left", "baseline": "middle", "font": "Liberation Sans, Noto Sans CJK SC", "fontSize": 13, "fill": "#1a1a1a"},
"encoding": {"x": {"datum": 0, "type": "quantitative", "scale": {"domain": [0,40.62], "range": [214.5,742.6], "nice": false, "zero": false}, "axis": null}, "y": {"field": "line", "type": "quantitative", "scale": {"domain": [0,10], "range": [661,849.5], "nice": false, "zero": false}, "axis": null}, "text": {"field": "text"}}},
{"data": {"values": [{"line": 0, "text": "4、短期劳工市场降温加速、尤其在移民流入放缓后。"}]},
"mark": {"type": "text", "align": "left", "baseline": "middle", "font": "Liberation Sans, Noto Sans CJK SC", "fontSize": 13, "fontWeight": "bold", "fill": "#1a1a1a"},
"encoding": {"x": {"datum": 0, "type": "quantitative", "scale": {"domain": [0,40.62], "range": [214.5,742.6], "nice": false, "zero": false}, "axis": null}, "y": {"field": "line", "type": "quantitative", "scale": {"domain": [0,10], "range": [661,849.5], "nice": false, "zero": false}, "axis": null}, "text": {"field": "text"}}},
{"data": {"values": [{"line": 0, "text": "近期美国就业市场明显减速，新增非农"}]},
"mark": {"type": "text", "align": "left", "baseline": "middle", "font": "Liberation Sans, Noto Sans CJK SC", "fontSize": 13, "fill": "#1a1a1a"},
"encoding": {"x": {"datum": 23.45, "type": "quantitative", "scale": {"domain": [0,40.62], "range": [214.5,742.6], "nice": false, "zero": false}, "axis": null}, "y": {"field": "line", "type": "quantitative", "scale": {"domain": [0,10], "range": [661,849.5], "nice": false, "zero": false}, "axis": null}, "text": {"field": "text"}}},
{"data": {"values": [{}]}, "mark": {"type": "rule", "stroke": "#1a1a1a", "strokeWidth": 0.8},
"encoding": {"x": {"datum": 27.89, "type": "quantitative", "scale": {"domain": [0,40.62], "range": [214.5,742.6], "nice": false, "zero": false}, "axis": null}, "x2": {"datum": 40.89}, "y": {"datum": 4.47, "type": "quantitative", "scale": {"domain": [0,10], "range": [661,849.5], "nice": false, "zero": false}, "axis": null}}},
{"data": {"values": [{}]}, "mark": {"type": "rule", "stroke": "#1a1a1a", "strokeWidth": 0.8},
"encoding": {"x": {"datum": 0, "type": "quantitative", "scale": {"domain": [0,40.62], "range": [214.5,742.6], "nice": false, "zero": false}, "axis": null}, "x2": {"datum": 9}, "y": {"datum": 5.47, "type": "quantitative", "scale": {"domain": [0,10], "range": [661,849.5], "nice": false, "zero": false}, "axis": null}}}
]
},
{"data": {"name": "c6rate"},
"mark": {"type": "line", "stroke": "#c00000", "strokeWidth": 1.8},
"encoding": {"x": {"field": "t", "type": "quantitative", "scale": {"domain": [2001,2025.53], "range": [89.3,351.7], "nice": false, "zero": false}, "axis": {"orient": "bottom", "offset": -819.7, "values": [2001,2004,2007,2010,2013,2016,2019,2022,2025], "format": "d", "title": null, "labelPadding": 1.5}}, "y": {"field": "v", "type": "quantitative", "scale": {"domain": [0,8], "range": [313.3,145], "nice": false, "zero": false}, "axis": {"orient": "left", "offset": -89.3, "values": [0,1,2,3,4,5,6,7,8], "format": "d", "title": null, "labelPadding": 3}}}},
{"data": {"name": "c6idx"},
"mark": {"type": "line", "stroke": "#333", "strokeWidth": 1, "strokeDash": [2.5,2]},
"encoding": {"x": {"field": "t", "type": "quantitative", "scale": {"domain": [2001,2025.53], "range": [89.3,351.7], "nice": false, "zero": false}, "axis": null}, "y": {"field": "v", "type": "quantitative", "scale": {"domain": [50,250], "range": [145,313.3], "nice": false, "zero": false}, "axis": {"orient": "right", "offset": -450.3, "values": [50,100,150,200,250], "format": "d", "title": null, "labelPadding": 2}}}},
{
"layer": [
{"mark": {"type": "rule", "stroke": "#c00000", "strokeWidth": 2},
"encoding": {"x": {"datum": 2004.65, "type": "quantitative", "scale": {"domain": [2001,2025.53], "range": [89.3,351.7], "nice": false, "zero": false}, "axis": null}, "x2": {"datum": 2007.77}, "y": {"datum": 8.92, "type": "quantitative", "scale": {"domain": [0,8], "range": [313.3,145], "nice": false, "zero": false}, "axis": null}}},
{"mark": {"type": "rule", "stroke": "#333", "strokeWidth": 1, "strokeDash": [2.5,2]},
"encoding": {"x": {"datum": 2004.65, "type": "quantitative", "scale": {"domain": [2001,2025.53], "range": [89.3,351.7], "nice": false, "zero": false}, "axis": null}, "x2": {"datum": 2007.77}, "y": {"datum": 8.11, "type": "quantitative", "scale": {"domain": [0,8], "range": [313.3,145], "nice": false, "zero": false}, "axis": null}}},
{"mark": {"type": "text", "text": "美国30年期抵押贷款固定利率", "align": "left", "baseline": "middle", "font": "Liberation Sans, Noto Sans CJK SC", "fontSize": 9.5, "fill": "#333"},
"encoding": {"x": {"datum": 2008.24, "type": "quantitative", "scale": {"domain": [2001,2025.53], "range": [89.3,351.7], "nice": false, "zero": false}, "axis": null}, "y": {"datum": 8.92, "type": "quantitative", "scale": {"domain": [0,8], "range": [313.3,145], "nice": false, "zero": false}, "axis": null}}},
{"mark": {"type": "text", "text": "美国住房购买力固定指数(逆序，右轴)", "align": "left", "baseline": "middle", "font": "Liberation Sans, Noto Sans CJK SC", "fontSize": 9.5, "fill": "#333"},
"encoding": {"x": {"datum": 2008.24, "type": "quantitative", "scale": {"domain": [2001,2025.53], "range": [89.3,351.7], "nice": false, "zero": false}, "axis": null}, "y": {"datum": 8.11, "type": "quantitative", "scale": {"domain": [0,8], "range": [313.3,145], "nice": false, "zero": false}, "axis": null}}},
{"mark": {"type": "text", "text": "(%)", "align": "center", "baseline": "middle", "font": "Liberation Sans", "fontSize": 10, "fill": "#000"},
"encoding": {"x": {"datum": 2000.75, "type": "quantitative", "scale": {"domain": [2001,2025.53], "range": [89.3,351.7], "nice": false, "zero": false}, "axis": null}, "y": {"datum": 9.03, "type": "quantitative", "scale": {"domain": [0,8], "range": [313.3,145], "nice": false, "zero": false}, "axis": null}}},
{"mark": {"type": "rule", "stroke": "#222", "strokeWidth": 1},
"encoding": {"x": {"datum": 2015.0, "type": "quantitative", "scale": {"domain": [2001,2025.53], "range": [89.3,351.7], "nice": false, "zero": false}, "axis": null}, "y": {"datum": 7.37, "type": "quantitative", "scale": {"domain": [0,8], "range": [313.3,145], "nice": false, "zero": false}, "axis": null}, "y2": {"datum": 5.6}}},
{"mark": {"type": "point", "shape": "triangle-down", "size": 60, "filled": true, "fill": "#111", "opacity": 1},
"encoding": {"x": {"datum": 2015.0, "type": "quantitative", "scale": {"domain": [2001,2025.53], "range": [89.3,351.7], "nice": false, "zero": false}, "axis": null}, "y": {"datum": 5.48, "type": "quantitative", "scale": {"domain": [0,8], "range": [313.3,145], "nice": false, "zero": false}, "axis": null}}},
{"mark": {"type": "text", "text": "住房购买力上升", "align": "left", "baseline": "middle", "font": "Noto Sans CJK SC", "fontSize": 9.5, "fill": "#222"},
"encoding": {"x": {"datum": 2015.77, "type": "quantitative", "scale": {"domain": [2001,2025.53], "range": [89.3,351.7], "nice": false, "zero": false}, "axis": null}, "y": {"datum": 6.89, "type": "quantitative", "scale": {"domain": [0,8], "range": [313.3,145], "nice": false, "zero": false}, "axis": null}}},
{"mark": {"type": "text", "text": "6.7", "align": "left", "baseline": "middle", "font": "Liberation Sans", "fontSize": 11, "fontWeight": "bold", "fill": "#c00000"},
"encoding": {"x": {"datum": 2025.84, "type": "quantitative", "scale": {"domain": [2001,2025.53], "range": [89.3,351.7], "nice": false, "zero": false}, "axis": null}, "y": {"datum": 6.7, "type": "quantitative", "scale": {"domain": [0,8], "range": [313.3,145], "nice": false, "zero": false}, "axis": null}}},
{"mark": {"type": "text", "text": "93.1", "align": "center", "baseline": "middle", "font": "Liberation Sans", "fontSize": 11, "fill": "#222"},
"encoding": {"x": {"datum": 2024.35, "type": "quantitative", "scale": {"domain": [2001,2025.53], "range": [89.3,351.7], "nice": false, "zero": false}, "axis": null}, "y": {"datum": 5.47, "type": "quantitative", "scale": {"domain": [0,8], "range": [313.3,145], "nice": false, "zero": false}, "axis": null}}}
]
},
{"data": {"name": "c7"},
"mark": {"type": "line", "stroke": "#c00000", "strokeWidth": 2, "interpolate": "monotone"},
"encoding": {"x": {"field": "t", "type": "quantitative", "scale": {"domain": [2014,2024.34], "range": [442.7,726.7], "nice": false, "zero": false}, "axis": {"orient": "bottom", "offset": -854, "values": [2014,2015,2016,2017,2018,2019,2020,2021,2022,2023,2024], "format": "d", "title": null, "labelPadding": 29, "labelFontSize": 9.5}}, "y": {"field": "v", "type": "quantitative", "scale": {"domain": [-5,25], "range": [306.7,141.7], "nice": false, "zero": false}, "axis": {"orient": "left", "offset": -442.7, "values": [-5,0,5,10,15,20,25], "labelExpr": "datum.value + '%'", "title": null, "labelPadding": 3, "labelFontSize": 9.5}}}},
{
"layer": [
{"mark": {"type": "rule", "stroke": "#c00000", "strokeWidth": 2},
"encoding": {"x": {"datum": 2015.83, "type": "quantitative", "scale": {"domain": [2014,2024.34], "range": [442.7,726.7], "nice": false, "zero": false}, "axis": null}, "x2": {"datum": 2016.74}, "y": {"datum": 25.87, "type": "quantitative", "scale": {"domain": [-5,25], "range": [306.7,141.7], "nice": false, "zero": false}, "axis": null}}},
{"mark": {"type": "text", "text": "标普Case-Shiller房价指数同比增速", "align": "left", "baseline": "middle", "font": "Liberation Sans, Noto Sans CJK SC", "fontSize": 9.5, "fill": "#333"},
"encoding": {"x": {"datum": 2016.88, "type": "quantitative", "scale": {"domain": [2014,2024.34], "range": [442.7,726.7], "nice": false, "zero": false}, "axis": null}, "y": {"datum": 25.87, "type": "quantitative", "scale": {"domain": [-5,25], "range": [306.7,141.7], "nice": false, "zero": false}, "axis": null}}},
{"mark": {"type": "text", "text": "5.9%", "align": "left", "baseline": "middle", "font": "Liberation Sans", "fontSize": 11, "fontWeight": "bold", "fill": "#c00000"},
"encoding": {"x": {"datum": 2023.92, "type": "quantitative", "scale": {"domain": [2014,2024.34], "range": [442.7,726.7], "nice": false, "zero": false}, "axis": null}, "y": {"datum": 4.55, "type": "quantitative", "scale": {"domain": [-5,25], "range": [306.7,141.7], "nice": false, "zero": false}, "axis": null}}}
]
},
{"data": {"name": "c8g"},
"mark": {"type": "line", "stroke": "#b3b3b3", "strokeWidth": 1.3},
"encoding": {"x": {"field": "t", "type": "quantitative", "scale": {"domain": [2017.947,2024.61], "range": [90,380], "nice": false, "zero": false}, "axis": {"orient": "bottom", "offset": -680.7, "values": [2018,2019,2020,2021,2022,2023,2024], "format": "d", "title": null, "labelPadding": 144, "labelFontSize": 9.5}}, "y": {"field": "v", "type": "quantitative", "scale": {"domain": [-70,20], "range": [595,411.7], "nice": false, "zero": false}, "axis": {"orient": "left", "offset": -90, "values": [-70,-60,-50,-40,-30,-20,-10,0,10,20], "labelExpr": "datum.value + '%'", "title": null, "labelPadding": 3, "labelFontSize": 9.5}}}},
{
"layer": [
{"data": {"name": "c8r"},
"mark": {"type": "line", "stroke": "#c00000", "strokeWidth": 2, "interpolate": "monotone"},
"encoding": {"x": {"field": "t", "type": "quantitative", "scale": {"domain": [2017.947,2024.61], "range": [90,380], "nice": false, "zero": false}, "axis": null}, "y": {"field": "v", "type": "quantitative", "scale": {"domain": [-70,20], "range": [595,411.7], "nice": false, "zero": false}, "axis": null}}},
{"mark": {"type": "text", "text": "美国房屋待售时长（Median Days on Market）", "align": "center", "baseline": "middle", "font": "Liberation Sans, Noto Sans CJK SC", "fontSize": 10.5, "fontWeight": "bold", "fill": "#111"},
"encoding": {"x": {"datum": 2021.05, "type": "quantitative", "scale": {"domain": [2017.947,2024.61], "range": [90,380], "nice": false, "zero": false}, "axis": null}, "y": {"datum": 22.9, "type": "quantitative", "scale": {"domain": [-70,20], "range": [595,411.7], "nice": false, "zero": false}, "axis": null}}},
{"mark": {"type": "rule", "stroke": "#b3b3b3", "strokeWidth": 1.5},
"encoding": {"x": {"datum": 2018.33, "type": "quantitative", "scale": {"domain": [2017.947,2024.61], "range": [90,380], "nice": false, "zero": false}, "axis": null}, "x2": {"datum": 2018.98}, "y": {"datum": -55.8, "type": "quantitative", "scale": {"domain": [-70,20], "range": [595,411.7], "nice": false, "zero": false}, "axis": null}}},
{"mark": {"type": "rule", "stroke": "#c00000", "strokeWidth": 2.5},
"encoding": {"x": {"datum": 2018.33, "type": "quantitative", "scale": {"domain": [2017.947,2024.61], "range": [90,380], "nice": false, "zero": false}, "axis": null}, "x2": {"datum": 2018.98}, "y": {"datum": -65.6, "type": "quantitative", "scale": {"domain": [-70,20], "range": [595,411.7], "nice": false, "zero": false}, "axis": null}}},
{"mark": {"type": "text", "text": "相比疫情前（2017-2019）差距", "align": "left", "baseline": "middle", "font": "Liberation Sans, Noto Sans CJK SC", "fontSize": 9.5, "fill": "#333"},
"encoding": {"x": {"datum": 2019.04, "type": "quantitative", "scale": {"domain": [2017.947,2024.61], "range": [90,380], "nice": false, "zero": false}, "axis": null}, "y": {"datum": -55.8, "type": "quantitative", "scale": {"domain": [-70,20], "range": [595,411.7], "nice": false, "zero": false}, "axis": null}}},
{"mark": {"type": "text", "text": "相比疫情前（2017-2019）差距（4WMA）", "align": "left", "baseline": "middle", "font": "Liberation Sans, Noto Sans CJK SC", "fontSize": 9.5, "fill": "#333"},
"encoding": {"x": {"datum": 2019.04, "type": "quantitative", "scale": {"domain": [2017.947,2024.61], "range": [90,380], "nice": false, "zero": false}, "axis": null}, "y": {"datum": -65.6, "type": "quantitative", "scale": {"domain": [-70,20], "range": [595,411.7], "nice": false, "zero": false}, "axis": null}}}
]
},
{"data": {"name": "c9"},
"mark": {"type": "line", "stroke": "#a6a6a6", "strokeWidth": 1.5},
"encoding": {"x": {"field": "t", "type": "quantitative", "scale": {"domain": [2012,2024.37], "range": [445,721.7], "nice": false, "zero": false}, "axis": {"orient": "bottom", "offset": -593, "values": [2012,2013,2014,2015,2016,2017,2018,2019,2020,2021,2022,2023,2024], "format": "d", "title": null, "labelAngle": -90, "labelPadding": 37, "labelFontSize": 10.5}}, "y": {"field": "j", "type": "quantitative", "scale": {"domain": [-10,30], "range": [575.7,434], "nice": false, "zero": false}, "axis": {"orient": "left", "offset": -445, "values": [-10,0,10,20,30], "labelExpr": "datum.value < 0 ? '(' + (-datum.value) + ')' : '' + datum.value", "title": null, "labelPadding": 4, "labelFontSize": 11}}}},
{
"layer": [
{"data": {"name": "c9"},
"mark": {"type": "line", "stroke": "#c00000", "strokeWidth": 1.5},
"encoding": {"x": {"field": "t", "type": "quantitative", "scale": {"domain": [2012,2024.37], "range": [445,721.7], "nice": false, "zero": false}, "axis": null}, "y": {"field": "h", "type": "quantitative", "scale": {"domain": [-10,30], "range": [575.7,434], "nice": false, "zero": false}, "axis": null}}},
{"mark": {"type": "rule", "stroke": "#c00000", "strokeWidth": 1.5},
"encoding": {"x": {"datum": 2013.86, "type": "quantitative", "scale": {"domain": [2012,2024.37], "range": [445,721.7], "nice": false, "zero": false}, "axis": null}, "x2": {"datum": 2014.98}, "y": {"datum": 36.97, "type": "quantitative", "scale": {"domain": [-10,30], "range": [575.7,434], "nice": false, "zero": false}, "axis": null}}},
{"mark": {"type": "rule", "stroke": "#a6a6a6", "strokeWidth": 1.5},
"encoding": {"x": {"datum": 2013.86, "type": "quantitative", "scale": {"domain": [2012,2024.37], "range": [445,721.7], "nice": false, "zero": false}, "axis": null}, "x2": {"datum": 2014.98}, "y": {"datum": 31.8, "type": "quantitative", "scale": {"domain": [-10,30], "range": [575.7,434], "nice": false, "zero": false}, "axis": null}}},
{"mark": {"type": "text", "text": "德克萨斯州休斯顿房价中位数同比", "align": "left", "baseline": "middle", "font": "Noto Sans CJK SC", "fontSize": 9.5, "fill": "#333"},
"encoding": {"x": {"datum": 2015.10, "type": "quantitative", "scale": {"domain": [2012,2024.37], "range": [445,721.7], "nice": false, "zero": false}, "axis": null}, "y": {"datum": 36.97, "type": "quantitative", "scale": {"domain": [-10,30], "range": [575.7,434], "nice": false, "zero": false}, "axis": null}}},
{"mark": {"type": "text", "text": "佛罗里达州杰克逊维尔房价中位数同比", "align": "left", "baseline": "middle", "font": "Noto Sans CJK SC", "fontSize": 9.5, "fill": "#333"},
"encoding": {"x": {"datum": 2015.10, "type": "quantitative", "scale": {"domain": [2012,2024.37], "range": [445,721.7], "nice": false, "zero": false}, "axis": null}, "y": {"datum": 31.8, "type": "quantitative", "scale": {"domain": [-10,30], "range": [575.7,434], "nice": false, "zero": false}, "axis": null}}},
{"mark": {"type": "text", "text": "(%,年同比)", "align": "center", "baseline": "middle", "font": "Liberation Sans, Noto Sans CJK SC", "fontSize": 9.5, "fill": "#333"},
"encoding": {"x": {"datum": 2012.34, "type": "quantitative", "scale": {"domain": [2012,2024.37], "range": [445,721.7], "nice": false, "zero": false}, "axis": null}, "y": {"datum": 33.87, "type": "quantitative", "scale": {"domain": [-10,30], "range": [575.7,434], "nice": false, "zero": false}, "axis": null}}},
{"mark": {"type": "text", "text": "3.6", "align": "left", "baseline": "middle", "font": "Liberation Sans", "fontSize": 11, "fontWeight": "bold", "fill": "#a6a6a6"},
"encoding": {"x": {"datum": 2024.52, "type": "quantitative", "scale": {"domain": [2012,2024.37], "range": [445,721.7], "nice": false, "zero": false}, "axis": null}, "y": {"datum": 4.4, "type": "quantitative", "scale": {"domain": [-10,30], "range": [575.7,434], "nice": false, "zero": false}, "axis": null}}},
{"mark": {"type": "text", "text": "1.5", "align": "left", "baseline": "middle", "font": "Liberation Sans", "fontSize": 11, "fontWeight": "bold", "fill": "#c00000"},
"encoding": {"x": {"datum": 2024.52, "type": "quantitative", "scale": {"domain": [2012,2024.37], "range": [445,721.7], "nice": false, "zero": false}, "axis": null}, "y": {"datum": 0.65, "type": "quantitative", "scale": {"domain": [-10,30], "range": [575.7,434], "nice": false, "zero": false}, "axis": null}}}
]
}
]
}
